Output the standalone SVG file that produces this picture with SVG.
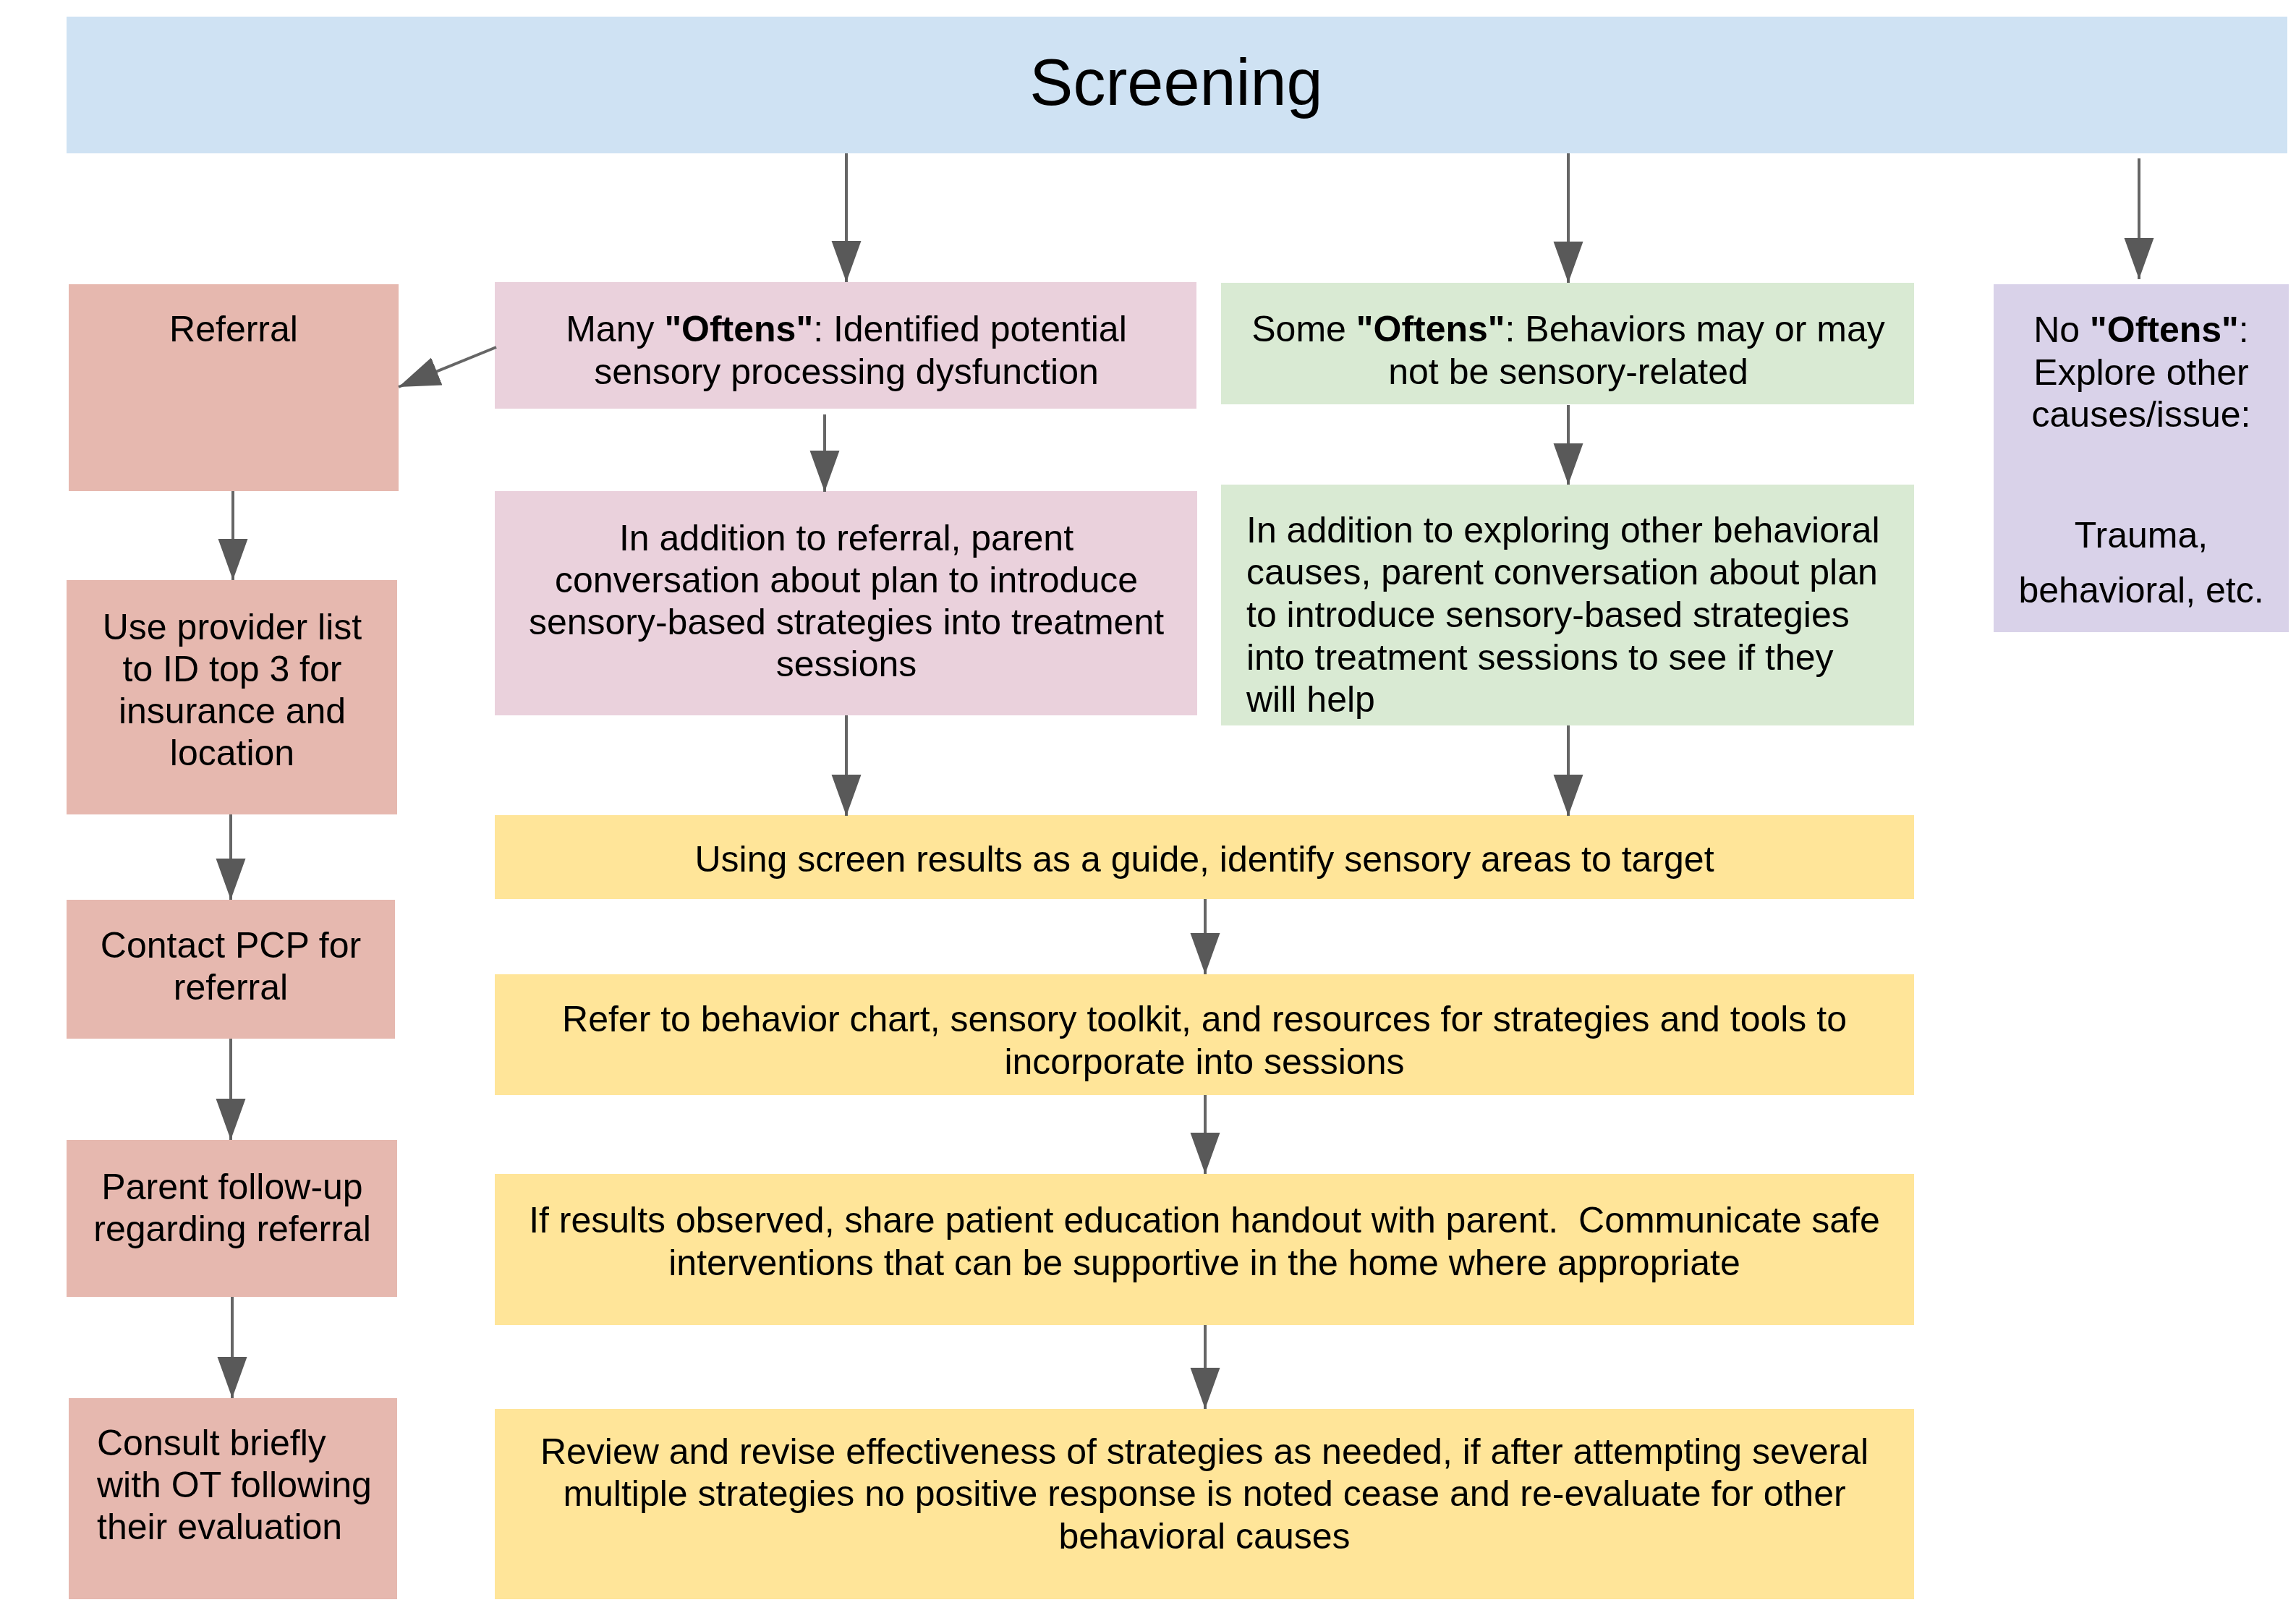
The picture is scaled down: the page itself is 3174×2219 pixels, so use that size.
<svg xmlns="http://www.w3.org/2000/svg" width="3174" height="2219" viewBox="0 0 3174 2219">
<style>
text{font-family:"Liberation Sans",Arial,sans-serif;font-size:50px;fill:#000}
.c{text-anchor:middle}
.b{font-weight:bold}
.red{fill:#e6b8af}
.pink{fill:#ead1dc}
.green{fill:#d9ead3}
.purple{fill:#d9d2e9}
.yellow{fill:#ffe599}
.blue{fill:#cfe2f3}
.conn line{stroke:#666;stroke-width:4;marker-end:url(#ah)}
</style>
<defs>
<marker id="ah" markerUnits="userSpaceOnUse" markerWidth="60" markerHeight="44" refX="57" refY="20.5" orient="auto">
<path d="M0,0 L57,20.5 L0,41 z" fill="#595959"/>
</marker>
</defs>
<rect width="3174" height="2219" fill="#fff"/>
<g id="screening">
<rect class="blue" x="92" y="23" width="3070" height="189"/>
<text class="c" x="1626" y="145" style="font-size:90px">Screening</text>
</g>
<g id="referral">
<rect class="red" x="95" y="393" width="456" height="286"/>
<text class="c" x="323" y="472">Referral</text>
</g>
<g id="provider-list">
<rect class="red" x="92" y="802" width="457" height="324"/>
<text class="c" x="321" y="884">Use provider list</text>
<text class="c" x="321" y="942">to ID top 3 for</text>
<text class="c" x="321" y="1000">insurance and</text>
<text class="c" x="321" y="1058">location</text>
</g>
<g id="contact-pcp">
<rect class="red" x="92" y="1244" width="454" height="192"/>
<text class="c" x="319" y="1324">Contact PCP for</text>
<text class="c" x="319" y="1382">referral</text>
</g>
<g id="parent-followup">
<rect class="red" x="92" y="1576" width="457" height="217"/>
<text class="c" x="321" y="1658">Parent follow-up</text>
<text class="c" x="321" y="1716">regarding referral</text>
</g>
<g id="consult-ot">
<rect class="red" x="95" y="1933" width="454" height="278"/>
<text x="134" y="2012">Consult briefly</text>
<text x="134" y="2070">with OT following</text>
<text x="134" y="2128">their evaluation</text>
</g>
<g id="many-oftens">
<rect class="pink" x="684" y="390" width="970" height="175"/>
<text class="c" x="1170" y="472">Many <tspan class="b">"Oftens"</tspan>: Identified potential</text>
<text class="c" x="1170" y="531">sensory processing dysfunction</text>
</g>
<g id="many-plan">
<rect class="pink" x="684" y="679" width="971" height="310"/>
<text class="c" x="1170" y="761">In addition to referral, parent</text>
<text class="c" x="1170" y="819">conversation about plan to introduce</text>
<text class="c" x="1170" y="877">sensory-based strategies into treatment</text>
<text class="c" x="1170" y="935">sessions</text>
</g>
<g id="some-oftens">
<rect class="green" x="1688" y="391" width="958" height="168"/>
<text class="c" x="2168" y="472">Some <tspan class="b">"Oftens"</tspan>: Behaviors may or may</text>
<text class="c" x="2168" y="531">not be sensory-related</text>
</g>
<g id="some-plan">
<rect class="green" x="1688" y="670" width="958" height="333"/>
<text x="1723" y="750">In addition to exploring other behavioral</text>
<text x="1723" y="808">causes, parent conversation about plan</text>
<text x="1723" y="867">to introduce sensory-based strategies</text>
<text x="1723" y="926">into treatment sessions to see if they</text>
<text x="1723" y="984">will help</text>
</g>
<g id="no-oftens">
<rect class="purple" x="2756" y="393" width="408" height="481"/>
<text class="c" x="2960" y="473">No <tspan class="b">"Oftens"</tspan>:</text>
<text class="c" x="2960" y="532">Explore other</text>
<text class="c" x="2960" y="590">causes/issue:</text>
<text class="c" x="2960" y="757">Trauma,</text>
<text class="c" x="2960" y="833">behavioral, etc.</text>
</g>
<g id="identify-areas">
<rect class="yellow" x="684" y="1127" width="1962" height="116"/>
<text class="c" x="1665" y="1205">Using screen results as a guide, identify sensory areas to target</text>
</g>
<g id="refer-chart">
<rect class="yellow" x="684" y="1347" width="1962" height="167"/>
<text class="c" x="1665" y="1426">Refer to behavior chart, sensory toolkit, and resources for strategies and tools to</text>
<text class="c" x="1665" y="1485">incorporate into sessions</text>
</g>
<g id="share-education">
<rect class="yellow" x="684" y="1623" width="1962" height="209"/>
<text class="c" x="1665" y="1704" xml:space="preserve">If results observed, share patient education handout with parent.  Communicate safe</text>
<text class="c" x="1665" y="1763">interventions that can be supportive in the home where appropriate</text>
</g>
<g id="review-revise">
<rect class="yellow" x="684" y="1948" width="1962" height="263"/>
<text class="c" x="1665" y="2024">Review and revise effectiveness of strategies as needed, if after attempting several</text>
<text class="c" x="1665" y="2082">multiple strategies no positive response is noted cease and re-evaluate for other</text>
<text class="c" x="1665" y="2141">behavioral causes</text>
</g>
<g id="connectors" class="conn">
<line x1="1170" y1="212" x2="1170" y2="390"/>
<line x1="2168" y1="212" x2="2168" y2="391"/>
<line x1="2957" y1="219" x2="2957" y2="386"/>
<line x1="686" y1="480" x2="551" y2="535"/>
<line x1="1140" y1="573" x2="1140" y2="680"/>
<line x1="1170" y1="989" x2="1170" y2="1128"/>
<line x1="2168" y1="560" x2="2168" y2="670"/>
<line x1="2168" y1="1003" x2="2168" y2="1128"/>
<line x1="1666" y1="1243" x2="1666" y2="1347"/>
<line x1="1666" y1="1514" x2="1666" y2="1623"/>
<line x1="1666" y1="1832" x2="1666" y2="1948"/>
<line x1="322" y1="679" x2="322" y2="802"/>
<line x1="319" y1="1126" x2="319" y2="1244"/>
<line x1="319" y1="1436" x2="319" y2="1576"/>
<line x1="321" y1="1793" x2="321" y2="1933"/>
</g>
</svg>
